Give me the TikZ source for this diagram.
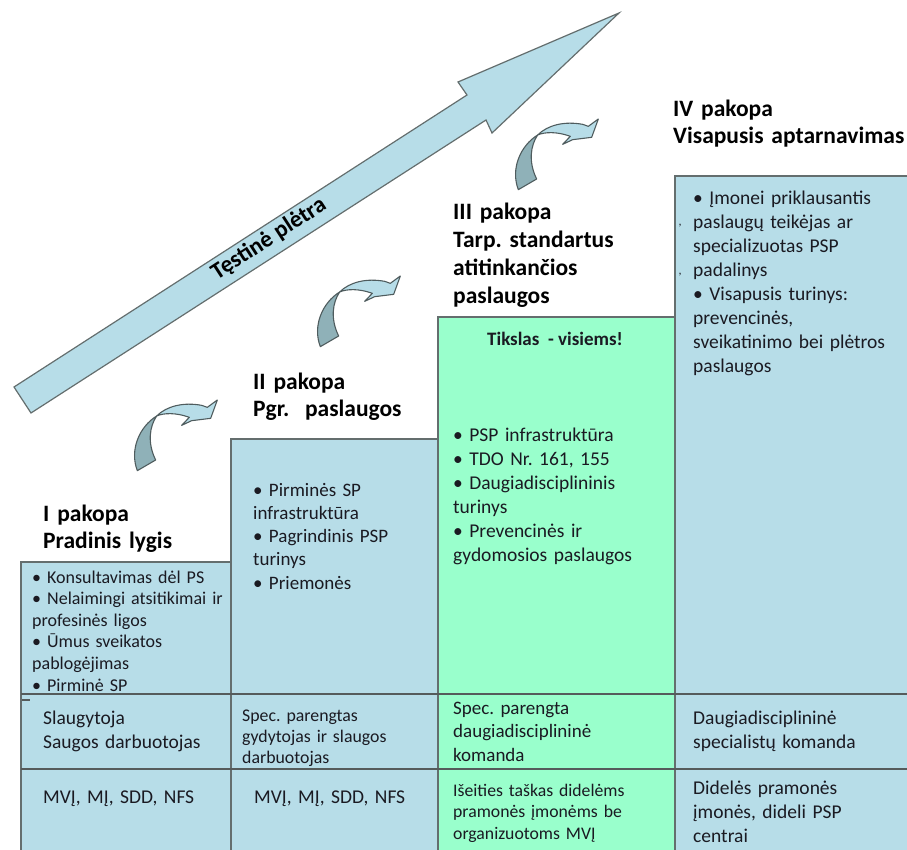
\documentclass[tikz,border=0pt]{standalone}
\usepackage{fontspec}
\setmainfont{Carlito}
\frenchspacing
\definecolor{boxblue}{HTML}{B7DDE8}
\definecolor{boxgreen}{HTML}{99FFCC}
\definecolor{edgegray}{HTML}{646E6E}
\definecolor{rowgray}{HTML}{555B5B}
\definecolor{darkteal}{HTML}{8FB1B8}
\definecolor{arrowedge}{HTML}{4F5C5E}
\definecolor{txt}{HTML}{1A1A22}
\tikzset{
  bluebox/.style={fill=boxblue, draw=edgegray, line width=1.3pt},
  greenbox/.style={fill=boxgreen, draw=edgegray, line width=1.3pt},
  rowline/.style={draw=rowgray, line width=2pt},
  head/.style={anchor=base west, inner sep=0pt, align=left, text width=260pt,
    font=\bfseries\fontsize{23.5}{27}\selectfont, text=black},
  body/.style={anchor=base west, inner sep=0pt, align=left, text width=215pt,
    font=\fontsize{19.5}{24}\selectfont, text=txt},
  smallbody/.style={body, font=\fontsize{17.8}{21.3}\selectfont},
  curvy/.pic={
    \begin{scope}[scale=1/3, line width=1.1pt, draw=arrowedge, line join=round]
      \filldraw[fill=boxblue] (140,108) .. controls (170,78) and (220,66) .. (275,76)
        -- (292,82) -- (322,60) -- (302,115) -- (245,122) -- (215,136) -- (238,112)
        .. controls (200,98) and (162,98) .. (140,108) -- cycle;
      \filldraw[fill=darkteal] (82,272) .. controls (58,210) and (88,140) .. (140,108)
        .. controls (118,140) and (112,190) .. (137,240) -- cycle;
    \end{scope}
  }
}
\begin{document}
\begin{tikzpicture}[x=1pt,y=-1pt]
\useasboundingbox (0,0) rectangle (907,850);
% big arrow
\filldraw[fill=boxblue, draw=edgegray, line width=1.2pt, line join=miter]
  (14,387) -- (467,95) -- (458,82) -- (619,13) -- (492,133) -- (486,120) -- (31,413) -- cycle;
\node[rotate=33, inner sep=0pt, font=\bfseries\fontsize{23.5}{26}\selectfont, text=black] (growth) at (269,239) {Tęstinė plėtra};
% curved arrows
\pic (cA) at (110,380) {curvy};
\pic (cB) at (293,256) {curvy};
\pic (cC) at (491,99) {curvy};
% columns
\path[bluebox] (21,562) rectangle (231,853);
\path[bluebox] (231,439) rectangle (438,853);
\path[greenbox] (438,317) rectangle (675,853);
\path[bluebox] (675,176) rectangle (912,853);
% row lines
\path[rowline] (21,694) -- (912,694);
\path[rowline] (21,769) -- (912,769);
\draw[rowgray, line width=1.3pt] (22,700) -- (30,700);
% headings
\node[head] (h1) at (43,521) {I pakopa\\Pradinis lygis};
\node[head] (h2) at (253,389) {II pakopa\\Pgr.\ \ paslaugos};
\node[head, font=\bfseries\fontsize{23.5}{28}\selectfont] (h3) at (453,220) {III pakopa\\Tarp. standartus\\atitinkančios\\paslaugos};
\node[head] (h4) at (673,117) {IV pakopa\\Visapusis aptarnavimas};
% row 1 texts
\node[body, font=\fontsize{18}{21.6}\selectfont] (t1) at (32,583) {• Konsultavimas dėl PS\\• Nelaimingi atsitikimai ir\\profesinės ligos\\• Ūmus sveikatos\\pablogėjimas\\• Pirminė SP};
\node[body, font=\fontsize{19}{23.3}\selectfont] (t2) at (253,496) {• Pirminės SP\\infrastruktūra\\• Pagrindinis PSP\\turinys\\• Priemonės};
\node[anchor=base, inner sep=0pt, font=\bfseries\fontsize{19}{23}\selectfont, text=txt] (goal) at (555,345) {Tikslas\ \ - visiems!};
\node[body] (t3) at (453,441) {• PSP infrastruktūra\\• TDO Nr. 161, 155\\• Daugiadisciplininis\\turinys\\• Prevencinės ir\\gydomosios paslaugos};
\node[body] (t4) at (693,205) {• Įmonei priklausantis\\paslaugų teikėjas ar\\specializuotas PSP\\padalinys\\• Visapusis turinys:\\prevencinės,\\sveikatinimo bei plėtros\\paslaugos};
\node[anchor=base, inner sep=0pt, font=\fontsize{12}{12}\selectfont, text=txt] (c1) at (680,226) {,};
\node[anchor=base, inner sep=0pt, font=\fontsize{12}{12}\selectfont, text=txt] (c2) at (680,274) {,};
% row 2 texts
\node[body] (r21) at (43,724) {Slaugytoja\\Saugos darbuotojas};
\node[smallbody] (r22) at (242,721) {Spec. parengtas\\gydytojas ir slaugos\\darbuotojas};
\node[body, font=\fontsize{19}{23.5}\selectfont] (r23) at (453,714) {Spec. parengta\\daugiadisciplininė\\komanda};
\node[body] (r24) at (693,724) {Daugiadisciplininė\\specialistų komanda};
% row 3 texts
\node[body] (r31) at (43,803) {MVĮ, MĮ, SDD, NFS};
\node[body] (r32) at (254,803) {MVĮ, MĮ, SDD, NFS};
\node[smallbody, font=\fontsize{17.7}{21.5}\selectfont] (r33) at (453,796) {Išeities taškas didelėms\\pramonės įmonėms be\\organizuotoms MVĮ};
\node[body] (r34) at (693,794) {Didelės pramonės\\įmonės, dideli PSP\\centrai};
\end{tikzpicture}
\end{document}
